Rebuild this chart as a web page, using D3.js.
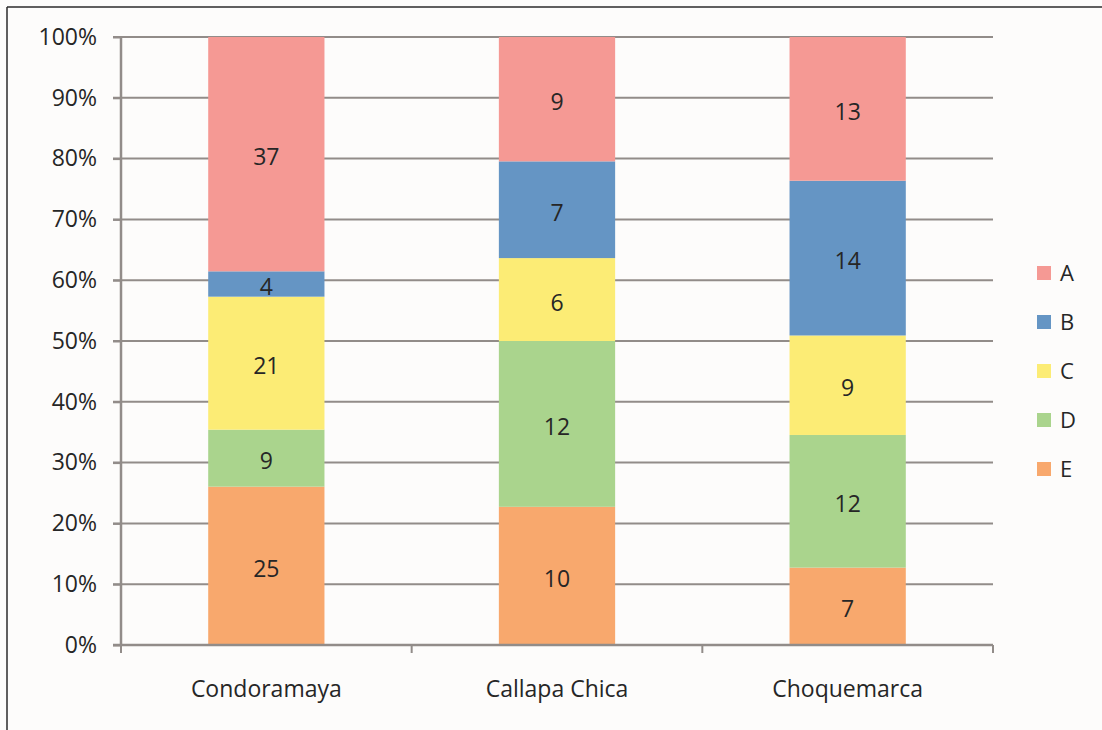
<!DOCTYPE html>
<html>
<head>
<meta charset="utf-8">
<script src="https://cdn.jsdelivr.net/npm/d3@7"></script>
<style>
  body { margin: 0; background: #fdfcfb; }
  text { font-family: "Open Sans", "DejaVu Sans", sans-serif; fill: #262626; }
</style>
</head>
<body>
<div id="chart"></div>
<script>
var categories = ["Condoramaya", "Callapa Chica", "Choquemarca"];
var seriesNames = ["E", "D", "C", "B", "A"];   // bottom to top
var valuesE = [25, 10, 7];
var valuesD = [9, 12, 12];
var valuesC = [21, 6, 9];
var valuesB = [4, 7, 14];
var valuesA = [37, 9, 13];
var yTicks = [0, 0.1, 0.2, 0.3, 0.4, 0.5, 0.6, 0.7, 0.8, 0.9, 1];
var legendOrder = ["A", "B", "C", "D", "E"];

var colors = {A: "#f59994", B: "#6595c4", C: "#fcec75", D: "#aad48d", E: "#f8a86d"};

var width = 1102, height = 730;
var margin = {top: 37, right: 109, bottom: 85, left: 121};
var innerWidth = width - margin.left - margin.right,
    innerHeight = height - margin.top - margin.bottom;

var table = categories.map(function(c, i) {
  return {cat: c, E: valuesE[i], D: valuesD[i], C: valuesC[i], B: valuesB[i], A: valuesA[i]};
});

var stacked = d3.stack().keys(seriesNames).offset(d3.stackOffsetExpand)(table);

var svg = d3.select("#chart").append("svg")
  .attr("width", width)
  .attr("height", height);

// outer frame (top + left edges visible)
svg.append("line").attr("x1", 7).attr("x2", width).attr("y1", 7).attr("y2", 7)
  .attr("stroke", "#2b2b2b").attr("stroke-width", 1.5);
svg.append("line").attr("x1", 7).attr("x2", 7).attr("y1", 7).attr("y2", height)
  .attr("stroke", "#2b2b2b").attr("stroke-width", 1.5);

var g = svg.append("g")
  .attr("transform", "translate(" + margin.left + "," + margin.top + ")");

var x = d3.scaleBand()
  .domain(categories)
  .range([0, innerWidth])
  .paddingInner(0.6)
  .paddingOuter(0.3);

var y = d3.scaleLinear()
  .domain([0, 1])
  .range([innerHeight, 0]);

// gridlines
g.append("g")
  .selectAll("line")
  .data(yTicks)
  .enter().append("line")
  .attr("x1", -8)
  .attr("x2", innerWidth)
  .attr("y1", d => y(d))
  .attr("y2", d => y(d))
  .attr("stroke", "#928c89")
  .attr("stroke-width", 2);

// bars
var layer = g.append("g").selectAll("g")
  .data(stacked)
  .enter().append("g")
  .attr("fill", d => colors[d.key]);

layer.selectAll("rect")
  .data(d => d)
  .enter().append("rect")
  .attr("x", d => x(d.data.cat))
  .attr("y", d => y(d[1]))
  .attr("width", x.bandwidth())
  .attr("height", d => y(d[0]) - y(d[1]));

// data labels
stacked.forEach(function(s) {
  g.append("g").selectAll("text")
    .data(s)
    .enter().append("text")
    .attr("x", d => x(d.data.cat) + x.bandwidth() / 2)
    .attr("y", d => (y(d[0]) + y(d[1])) / 2)
    .attr("dy", "0.48em")
    .attr("text-anchor", "middle")
    .style("font-size", "23px")
    .text(d => d.data[s.key]);
});

// y axis
var yAxis = d3.axisLeft(y)
  .tickValues(yTicks)
  .tickFormat(d3.format(".0%"))
  .tickSize(8)
  .tickPadding(16);

var yg = g.append("g").call(yAxis);
yg.select(".domain").attr("stroke", "#928c89").attr("stroke-width", 2.5)
  .attr("d", "M0," + innerHeight + "V0");
yg.selectAll(".tick line").attr("stroke", "#928c89").attr("stroke-width", 2);
yg.selectAll(".tick text").style("font-size", "23px").attr("fill", "#262626");

// x axis with separator ticks between categories
var xg = g.append("g").attr("transform", "translate(0," + innerHeight + ")");
xg.append("line").attr("x1", -8).attr("x2", innerWidth).attr("y1", 0).attr("y2", 0)
  .attr("stroke", "#928c89").attr("stroke-width", 2.5);
xg.selectAll("line.sep")
  .data(d3.range(0, categories.length + 1))
  .enter().append("line")
  .attr("class", "sep")
  .attr("x1", i => i * innerWidth / categories.length)
  .attr("x2", i => i * innerWidth / categories.length)
  .attr("y1", 0).attr("y2", 8)
  .attr("stroke", "#928c89").attr("stroke-width", 2);
xg.selectAll("text.cat")
  .data(categories)
  .enter().append("text")
  .attr("class", "cat")
  .attr("x", d => x(d) + x.bandwidth() / 2)
  .attr("y", 52)
  .attr("text-anchor", "middle")
  .style("font-size", "23px")
  .text(d => d);

// legend
var legend = svg.append("g")
  .attr("transform", "translate(1037,266)");
var li = legend.selectAll("g")
  .data(legendOrder)
  .enter().append("g")
  .attr("transform", (d, i) => "translate(0," + i * 49 + ")");
li.append("rect")
  .attr("width", 14).attr("height", 14)
  .attr("fill", d => colors[d]);
li.append("text")
  .attr("x", 23).attr("y", 7).attr("dy", "0.35em")
  .style("font-size", "22px")
  .text(d => d);
</script>
</body>
</html>
